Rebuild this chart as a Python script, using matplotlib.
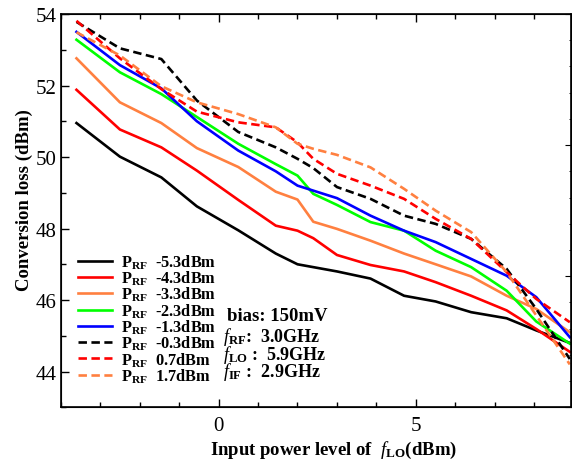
import matplotlib
matplotlib.use("Agg")
import matplotlib.pyplot as plt
from matplotlib.ticker import MultipleLocator

plt.rcParams['font.family'] = ['Liberation Serif', 'DejaVu Serif']
plt.rcParams['mathtext.fontset'] = 'custom'
plt.rcParams['mathtext.rm'] = 'Liberation Serif'
plt.rcParams['mathtext.it'] = 'Liberation Serif:italic'
plt.rcParams['mathtext.bf'] = 'Liberation Serif:bold'

# LO input power (dBm)
x_lo = [-3.6, -2.5, -1.45, -0.55, 0.5, 1.45, 2.0, 2.4, 3.0, 3.85, 4.7, 5.5, 6.4, 7.3, 8.05, 8.9]

p_rf_labels = ["-5.3dBm", "-4.3dBm", "-3.3dBm", "-2.3dBm", "-1.3dBm", "-0.3dBm", "0.7dBm", "1.7dBm"]

cl_m53 = [50.95, 50.01, 49.43, 48.62, 47.95, 47.30, 47.00, 46.92, 46.80, 46.60, 46.12, 45.96, 45.66, 45.49, 45.15, 44.80]
cl_m43 = [51.88, 50.77, 50.27, 49.62, 48.80, 48.08, 47.94, 47.73, 47.26, 46.98, 46.80, 46.50, 46.12, 45.71, 45.19, 44.55]
cl_m33 = [52.76, 51.53, 50.95, 50.25, 49.72, 49.03, 48.81, 48.19, 47.99, 47.66, 47.30, 47.00, 46.66, 46.12, 45.75, 45.10]
cl_m23 = [53.28, 52.37, 51.76, 51.12, 50.37, 49.80, 49.48, 48.97, 48.66, 48.18, 47.94, 47.38, 46.92, 46.26, 45.40, 44.78]
cl_m13 = [53.50, 52.57, 51.92, 51.00, 50.18, 49.60, 49.20, 49.06, 48.85, 48.36, 47.94, 47.62, 47.15, 46.68, 46.08, 44.96]
cl_m03 = [53.78, 53.04, 52.74, 51.58, 50.70, 50.27, 49.95, 49.69, 49.16, 48.83, 48.36, 48.13, 47.71, 46.87, 45.75, 44.35]
cl_p07 = [53.81, 52.76, 51.90, 51.27, 50.97, 50.83, 50.41, 49.95, 49.53, 49.20, 48.83, 48.27, 47.71, 46.78, 46.03, 45.38]
cl_p17 = [53.49, 52.84, 51.98, 51.53, 51.20, 50.83, 50.37, 50.23, 50.06, 49.71, 49.11, 48.50, 47.90, 46.78, 45.57, 44.20]

series = [cl_m53, cl_m43, cl_m33, cl_m23, cl_m13, cl_m03, cl_p07, cl_p17]
colors = ["#000000", "#ff0000", "#ff8040", "#00ff00", "#0000ff", "#000000", "#ff0000", "#ff8040"]
styles = ["-", "-", "-", "-", "-", "--", "--", "--"]

W, H = 572, 464
fig = plt.figure(figsize=(W / 100, H / 100), dpi=100)
ax = fig.add_axes([60.7 / W, 1 - 408.3 / H, (571 - 60.7) / W, (408.3 - 15) / H])

for ys, c, ls, lab in zip(series, colors, styles, p_rf_labels):
    kw = dict(color=c, lw=1.9, label=r"P$_{\mathbf{RF}}$  " + lab)
    if ls == "--":
        kw["dashes"] = (3.2, 1.7)
    ax.plot(x_lo, ys, **kw)

ax.set_xlim(-4, 8.93)
ax.set_ylim(43, 54)
ax.xaxis.set_major_locator(MultipleLocator(5))
ax.xaxis.set_minor_locator(MultipleLocator(1))
ax.yaxis.set_major_locator(MultipleLocator(2))
ax.yaxis.set_minor_locator(MultipleLocator(1))
ax.tick_params(which='both', direction='in', top=True, right=False, labelsize=15, width=1.0)
ax.tick_params(which='major', length=6)
ax.tick_params(which='minor', length=3.5)
ax.tick_params(axis='y', pad=3)
ax.tick_params(axis='x', pad=6)
for s in ax.spines.values():
    s.set_linewidth(1.2)

ax2 = ax.twinx()
ax2.set_ylim(0, 15)
ax2.yaxis.set_major_locator(MultipleLocator(5))
ax2.yaxis.set_minor_locator(MultipleLocator(1))
ax2.tick_params(which='both', direction='in', labelright=False)
ax2.tick_params(which='major', length=4)
ax2.tick_params(which='minor', length=1.5)

leg = ax.legend(loc='upper left', bbox_to_anchor=(78 / W, 1 - 253.5 / H), bbox_transform=fig.transFigure,
                frameon=False, handlelength=2.1, handletextpad=0.5,
                labelspacing=-0.13, borderpad=0, borderaxespad=0,
                prop={'weight': 'bold', 'size': 11.8})

tfs = 13
fig.text(227 / W, 1 - 316.7 / H, "bias: 150mV", fontsize=13.5, fontweight='bold', va='center', ha='left')
fig.text(223 / W, 1 - 336.5 / H, r"$f_{\mathbf{RF}}$:  3.0GHz", fontsize=tfs, fontweight='bold', va='center', ha='left')
fig.text(223 / W, 1 - 355 / H, r"$f_{\mathbf{LO}}$ :  5.9GHz", fontsize=tfs, fontweight='bold', va='center', ha='left')
fig.text(223 / W, 1 - 372 / H, r"$f_{\mathbf{IF}}$ :  2.9GHz", fontsize=tfs, fontweight='bold', va='center', ha='left')

fig.text(334 / W, 1 - 450 / H, r"Input power level of  $f_{\mathbf{LO}}$(dBm)", fontsize=13.5,
         fontweight='bold', ha='center', va='center')
fig.text(24 / W, 1 - 200 / H, "Conversion loss (dBm)", fontsize=13.5, fontweight='bold',
         rotation=90, ha='center', va='center')

fig.savefig("out.png", dpi=100)
